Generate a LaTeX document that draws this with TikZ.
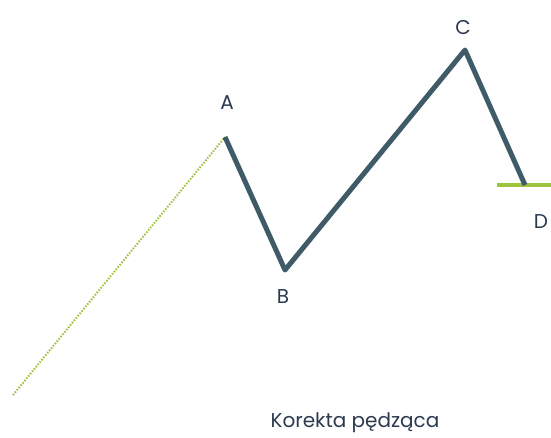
\documentclass[tikz,border=0pt]{standalone}
\usepackage{fontspec}
\setmainfont{Poppins}
\usepackage{xcolor}
\usepackage{tikz}
\usetikzlibrary{calc, positioning}
\definecolor{slate}{HTML}{3F5B67}
\definecolor{lime}{HTML}{9DC33F}
\definecolor{ink}{HTML}{2C3A50}

\begin{document}
\begin{tikzpicture}[x=1pt, y=-1pt, line join=round,
    wave/.style={line width=5pt, color=slate},
    lbl/.style={text=ink, font=\fontsize{20}{24}\selectfont, inner sep=0pt}]
    \useasboundingbox (0,0) rectangle (551,437);
    % 1. Các điểm
    \coordinate (S) at (13,395);
    \coordinate (A) at (225,137);
    \coordinate (B) at (285,270);
    \coordinate (C) at (465,50);
    \coordinate (D) at (525,185);
    \coordinate (L) at (497,185);
    \coordinate (R) at (551,185);

    % 2. Vẽ đường
    \draw[lime, line width=2pt, dash pattern=on 1.5pt off 1.5pt] (S) -- (A);
    \draw[lime, line width=4pt] (L) -- (R);
    \draw[wave] (A) -- (B) -- (C) -- (D);

    % 3. Nhãn
    \node[lbl] (labA) at (227,103) {A};
    \node[lbl] (labB) at (283,297) {B};
    \node[lbl] (labC) at (463,27) {C};
    \node[lbl] (labD) at (541,222) {D};
    \node[lbl] (title) at (355,423) {Korekta pędząca};
\end{tikzpicture}
\end{document}
